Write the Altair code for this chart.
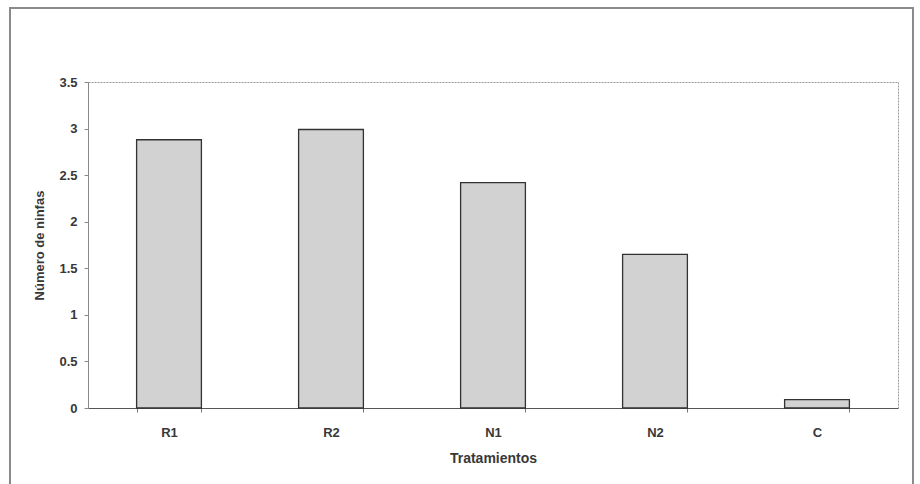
import altair as alt
import pandas as pd

tratamientos = ["R1", "R2", "N1", "N2", "C"]
ninfas = [2.88, 2.99, 2.42, 1.65, 0.09]

df = pd.DataFrame({"Tratamientos": tratamientos, "ninfas": ninfas})

W, H = 810, 326
FONT = "Liberation Sans"

bars = alt.Chart(df).mark_bar(
    fill="#d2d2d2", stroke="#333333", strokeWidth=1.3
).encode(
    x=alt.X(
        "Tratamientos:N",
        sort=tratamientos,
        scale=alt.Scale(paddingInner=0.6, paddingOuter=0.3),
        axis=alt.Axis(
            title="Tratamientos",
            labelAngle=0,
            tickBand="extent",
            tickSize=4,
            labelPadding=14,
            titlePadding=12,
            titleFontSize=14,
            domainColor="#555555",
            tickColor="#777777",
        ),
    ),
    y=alt.Y(
        "ninfas:Q",
        scale=alt.Scale(domain=[0, 3.5], nice=False),
        axis=alt.Axis(
            title="Número de ninfas",
            values=[0, 0.5, 1, 1.5, 2, 2.5, 3, 3.5],
            format="~g",
            tickSize=4,
            labelPadding=7,
            titlePadding=12,
            titleFontSize=13,
            domainColor="#888888",
            tickColor="#888888",
            grid=False,
        ),
    ),
)

# outer frame around the whole figure
frame = alt.Chart(df).mark_rect(
    fill=None, stroke="#8a8a8a", strokeWidth=1.5, clip=False
).encode(
    x=alt.value(-78), x2=alt.value(825),
    y=alt.value(-74), y2=alt.value(90 + H),
)

chart = alt.layer(frame, bars).properties(
    width=W,
    height=H,
    autosize=alt.AutoSizeParams(type="none"),
    padding={"left": 88, "top": 82, "right": 22, "bottom": 76},
    background="white",
).configure_view(
    stroke="#9a9a9a", strokeDash=[2, 1], strokeWidth=1
).configure_axis(
    labelFont=FONT, titleFont=FONT,
    labelFontSize=13,
    labelFontWeight="bold", titleFontWeight="bold",
    labelColor="#383838", titleColor="#383838",
)

chart.save("out.html", embed_options={"renderer": "svg", "actions": False})
